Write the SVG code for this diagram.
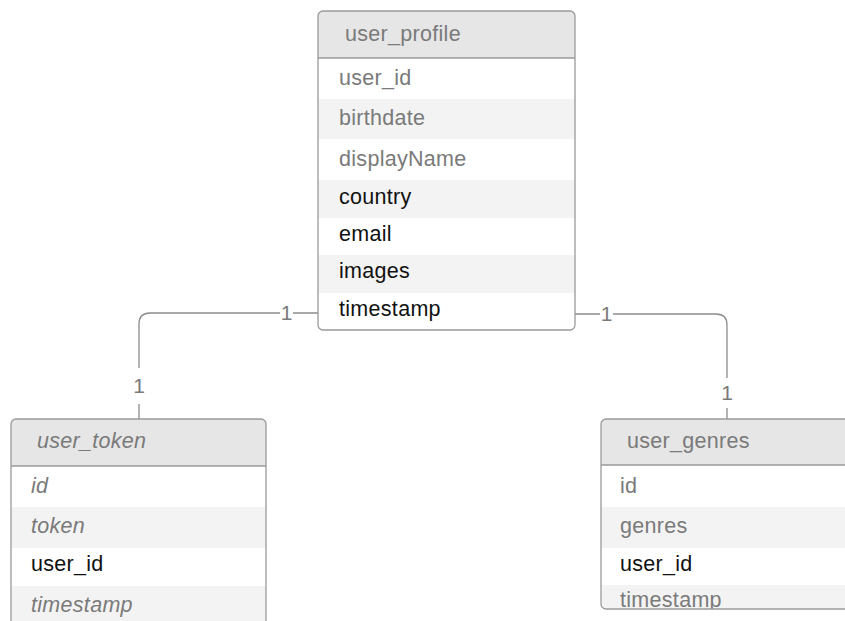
<svg xmlns="http://www.w3.org/2000/svg" width="845" height="621" viewBox="0 0 845 621">
<style>
text{font-family:"Liberation Sans",Arial,sans-serif;font-size:21.5px;letter-spacing:0.3px}
.hdr{fill:#e6e6e6}
.alt{fill:#f3f3f3}
.wht{fill:#ffffff}
.box{fill:none;stroke:#9a9a9a;stroke-width:1.3}
.sep{stroke:#9a9a9a;stroke-width:1.3}
.g{fill:#7a7a7a}
.k{fill:#111111}
.it{font-style:italic}
.conn{fill:none;stroke:#8c8c8c;stroke-width:1.3}
.lbl{fill:#7a7a7a;font-size:21px;text-anchor:middle;letter-spacing:0}
</style>
<defs>
<clipPath id="cp1"><rect x="318" y="11" width="257" height="319" rx="5"/></clipPath>
<clipPath id="cp2"><rect x="11" y="419" width="255" height="230" rx="5"/></clipPath>
<clipPath id="cp3"><rect x="601" y="419" width="260" height="190" rx="5"/></clipPath>
</defs>
<rect width="845" height="621" fill="#ffffff"/>

<g id="connectors">
<path class="conn" d="M318,313 H150 Q139,313 139,324 V419"/>
<path class="conn" d="M575,314 H716 Q727,314 727,325 V419"/>
<rect x="280" y="302" width="13" height="22" fill="#fff"/>
<text class="lbl" x="286.5" y="320">1</text>
<rect x="130" y="368" width="18" height="36" fill="#fff"/>
<text class="lbl" x="139" y="393">1</text>
<rect x="600" y="303" width="13" height="22" fill="#fff"/>
<text class="lbl" x="606.5" y="321">1</text>
<rect x="718" y="378" width="18" height="30" fill="#fff"/>
<text class="lbl" x="727" y="400">1</text>
</g>

<g id="user_profile">
<g clip-path="url(#cp1)">
<rect class="hdr" x="318" y="11" width="257" height="47"/>
<rect class="wht" x="318" y="58" width="257" height="41"/>
<rect class="alt" x="318" y="99" width="257" height="40"/>
<rect class="wht" x="318" y="139" width="257" height="41"/>
<rect class="alt" x="318" y="180" width="257" height="38"/>
<rect class="wht" x="318" y="218" width="257" height="37"/>
<rect class="alt" x="318" y="255" width="257" height="38"/>
<rect class="wht" x="318" y="293" width="257" height="37"/>
</g>
<line class="sep" x1="318" y1="58" x2="575" y2="58"/>
<rect class="box" x="318" y="11" width="257" height="319" rx="5"/>
<text class="g" x="345" y="41">user_profile</text>
<text class="g" x="339" y="85">user_id</text>
<text class="g" x="339" y="125">birthdate</text>
<text class="g" x="339" y="166">displayName</text>
<text class="k" x="339" y="204">country</text>
<text class="k" x="339" y="241">email</text>
<text class="k" x="339" y="278">images</text>
<text class="k" x="339" y="316">timestamp</text>
</g>

<g id="user_token">
<g clip-path="url(#cp2)">
<rect class="hdr" x="11" y="419" width="255" height="47"/>
<rect class="wht" x="11" y="466" width="255" height="41"/>
<rect class="alt" x="11" y="507" width="255" height="41"/>
<rect class="wht" x="11" y="548" width="255" height="38"/>
<rect class="alt" x="11" y="586" width="255" height="63"/>
</g>
<line class="sep" x1="11" y1="466" x2="266" y2="466"/>
<rect class="box" x="11" y="419" width="255" height="230" rx="5"/>
<text class="g it" x="37" y="448">user_token</text>
<text class="g it" x="31" y="493">id</text>
<text class="g it" x="31" y="533">token</text>
<text class="k" x="31" y="571">user_id</text>
<text class="g it" x="31" y="612">timestamp</text>
</g>

<g id="user_genres">
<g clip-path="url(#cp3)">
<rect class="hdr" x="601" y="419" width="260" height="46"/>
<rect class="wht" x="601" y="465" width="260" height="42"/>
<rect class="alt" x="601" y="507" width="260" height="41"/>
<rect class="wht" x="601" y="548" width="260" height="37"/>
<rect class="alt" x="601" y="585" width="260" height="24"/>
<text class="g" x="620" y="607">timestamp</text>
</g>
<line class="sep" x1="601" y1="465" x2="861" y2="465"/>
<rect class="box" x="601" y="419" width="260" height="190" rx="5"/>
<text class="g" x="627" y="448">user_genres</text>
<text class="g" x="620" y="493">id</text>
<text class="g" x="620" y="533">genres</text>
<text class="k" x="620" y="571">user_id</text>
</g>
</svg>
